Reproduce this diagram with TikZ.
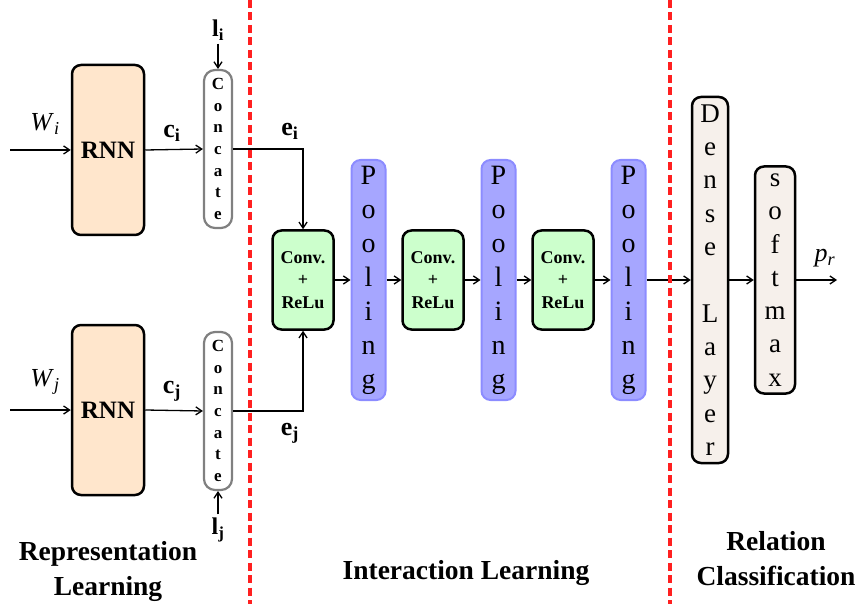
\documentclass[tikz,border=0pt]{standalone}
\usepackage{fontspec}
\setmainfont{Liberation Serif}
\usetikzlibrary{arrows.meta}
\definecolor{rnnfill}{HTML}{FFE6CC}
\definecolor{convfill}{HTML}{CCFFCC}
\definecolor{poolfill}{HTML}{A6A6FF}
\definecolor{pooldraw}{HTML}{8C8CFF}
\definecolor{densefill}{HTML}{F6F0EB}
\definecolor{catdraw}{HTML}{808080}
\definecolor{sepred}{HTML}{FF2020}
\newcommand\itsub[2]{\textit{#1}\textsubscript{\textit{#2}}}
\newcommand\bfsub[2]{\textbf{#1}\textsubscript{\textbf{#2}}}
\tikzset{
  x=1pt, y=-1pt,
  conn/.style={line width=1.3pt, -{Straight Barb[length=6pt,width=8pt]}},
  rnnbox/.style={draw, line width=2.5pt, fill=rnnfill, rounded corners=9pt,
    minimum width=72pt, minimum height=170pt, font=\fontsize{25}{28}\selectfont\bfseries},
  catbox/.style={draw=catdraw, line width=2.2pt, fill=white, rounded corners=11pt,
    minimum width=28pt, minimum height=158pt, inner sep=0pt, align=center,
    font=\fontsize{17}{21.7}\selectfont\bfseries},
  convbox/.style={draw, line width=2.5pt, fill=convfill, rounded corners=9pt,
    minimum width=61pt, minimum height=99pt, inner sep=0pt, align=center,
    font=\fontsize{18}{22.5}\selectfont\bfseries},
  poolbox/.style={draw=pooldraw, line width=2pt, fill=poolfill, rounded corners=9pt,
    minimum width=34pt, minimum height=240pt, inner sep=0pt, align=center,
    font=\fontsize{28}{34}\selectfont},
  vbox/.style={draw, line width=2.5pt, fill=densefill, rounded corners=9pt,
    inner sep=0pt, align=center, font=\fontsize{27}{33.3}\selectfont},
  lbl/.style={font=\fontsize{26}{28}\selectfont},
  sect/.style={align=center, font=\fontsize{27.5}{35}\selectfont\bfseries},
  sep/.style={draw=sepred, line width=3.5pt, dash pattern=on 8pt off 4.5pt},
}
\begin{document}
\begin{tikzpicture}
\useasboundingbox (0,0) rectangle (857,604);

% representation learning
\node[rnnbox] (rnn1) at (108,150) {RNN};
\node[rnnbox] (rnn2) at (108,410) {RNN};
\node[catbox] (cat1) at (218,149) {C\\o\\n\\c\\a\\t\\e};
\node[catbox] (cat2) at (218,411) {C\\o\\n\\c\\a\\t\\e};
\coordinate (wi) at (10,150);
\coordinate (wj) at (10,410);
\node[lbl] (Wi) at (45,124) {\itsub{W}{i}};
\node[lbl] (Wj) at (45,382) {\itsub{W}{j}};
\node[lbl] (ci) at (172,133) {\bfsub{c}{i}};
\node[lbl] (cj) at (172,391) {\bfsub{c}{j}};
\node[font=\fontsize{24}{26}\selectfont] (li) at (218,30) {\bfsub{l}{i}};
\node[font=\fontsize{24}{26}\selectfont] (lj) at (218,530) {\bfsub{l}{j}};
\node[lbl] (ei) at (290,131) {\bfsub{e}{i}};
\node[lbl] (ej) at (290,433) {\bfsub{e}{j}};

\draw[conn] (wi) -- (rnn1.west);
\draw[conn] (wj) -- (rnn2.west);
\draw[conn] (rnn1.east) -- (cat1.west);
\draw[conn] (rnn2.east) -- (cat2.west);
\draw[conn] (li.south) -- (cat1.north);
\draw[conn] (lj.north) -- (cat2.south);

% interaction learning
\node[convbox] (conv1) at (303,280) {Conv.\\+\\ReLu};
\node[poolbox] (pool1) at (368.5,280) {P\\o\\o\\l\\i\\n\\g};
\node[convbox] (conv2) at (433,280) {Conv.\\+\\ReLu};
\node[poolbox] (pool2) at (498.5,280) {P\\o\\o\\l\\i\\n\\g};
\node[convbox] (conv3) at (563,280) {Conv.\\+\\ReLu};
\node[poolbox] (pool3) at (628.5,280) {P\\o\\o\\l\\i\\n\\g};

\draw[conn] (cat1.east) -| (conv1.north);
\draw[conn] (cat2.east) -| (conv1.south);
\draw[conn] (conv1) -- (pool1);
\draw[conn] (pool1) -- (conv2);
\draw[conn] (conv2) -- (pool2);
\draw[conn] (pool2) -- (conv3);
\draw[conn] (conv3) -- (pool3);

% relation classification
\node[vbox, minimum width=36pt, minimum height=366pt] (dense) at (710,280)
  {D\\e\\n\\s\\e\\ \\L\\a\\y\\e\\r};
\node[vbox, minimum width=40pt, minimum height=227pt] (soft) at (775,280)
  {s\\o\\f\\t\\m\\a\\x};
\coordinate (out) at (837,280);
\node[lbl] (pr) at (825,258) {\itsub{p}{r}};
\draw[conn] (pool3) -- (dense);
\draw[conn] (dense) -- (soft);
\draw[conn] (soft) -- (out);

% separators
\coordinate (s1a) at (250,0);
\coordinate (s1b) at (250,604);
\coordinate (s2a) at (670,0);
\coordinate (s2b) at (670,604);
\draw[sep] (s1a) -- (s1b);
\draw[sep] (s2a) -- (s2b);

% section titles
\node[sect] (t1) at (108,571) {Representation\\Learning};
\node[sect] (t2) at (466,573) {Interaction Learning};
\node[sect] (t3) at (776,559) {Relation\\Classification};
\end{tikzpicture}
\end{document}
